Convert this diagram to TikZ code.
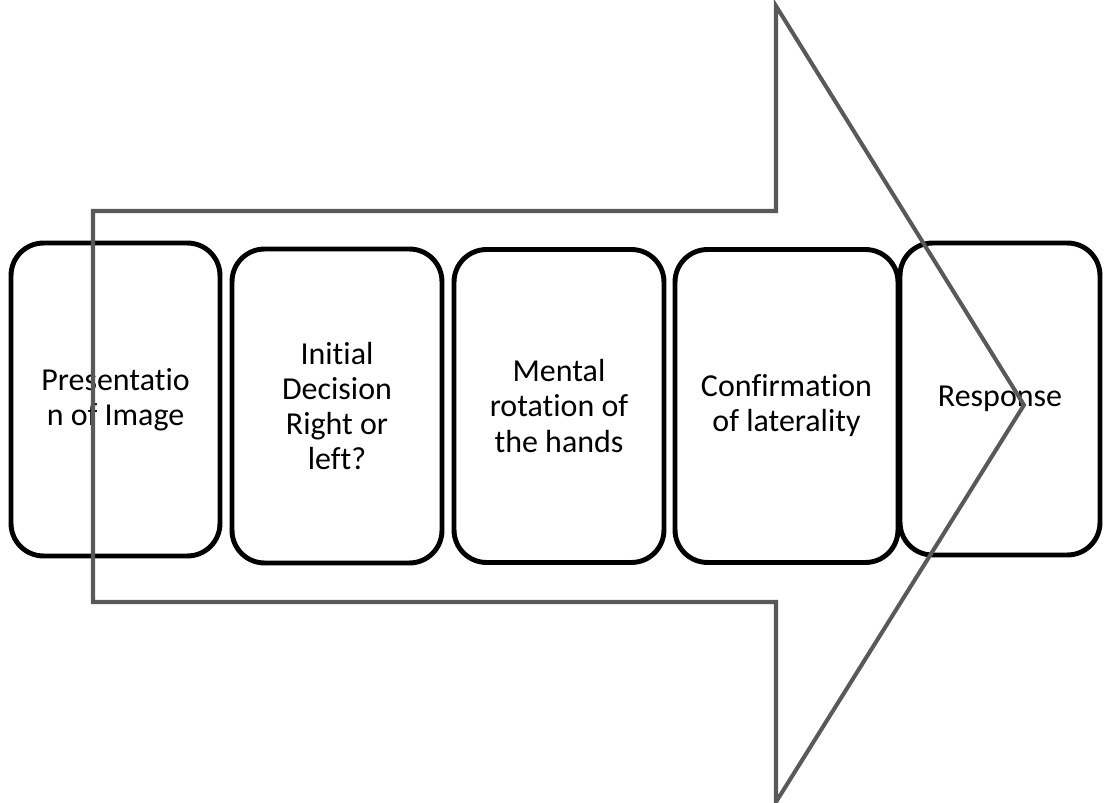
\documentclass[tikz,border=0pt]{standalone}
\usepackage{fontspec}
\setmainfont{Carlito}[Ligatures=NoCommon, RawFeature=-calt]
\usepackage{tikz}
\definecolor{arrowgray}{HTML}{595959}

\begin{document}
\begin{tikzpicture}[x=0.02cm,y=-0.02cm,
	stage/.style={draw=black, line width=2.8pt, rounded corners=0.65cm, inner sep=0pt, align=center, font=\fontsize{18.2}{20}\selectfont},
	flow/.style={draw=arrowgray, line width=2.3pt}]
	\useasboundingbox (0,0) rectangle (1105,803);
	
	\node[stage, minimum width=4.18cm, minimum height=6.26cm] (present) at (115.5,399.5) {Presentatio\\n of Image};
	\node[stage, minimum width=4.2cm, minimum height=6.28cm] (decide) at (337,406) {Initial\\Decision\\Right or\\left?};
	\node[stage, minimum width=4.2cm, minimum height=6.26cm] (rotate) at (559,406) {Mental\\rotation of\\the hands};
	\node[stage, minimum width=4.46cm, minimum height=6.26cm] (confirm) at (786.5,406) {Confirmation\\of laterality};
	\node[stage, minimum width=4cm, minimum height=6.24cm] (respond) at (1000,399) {Response};
	
	\draw[flow] (93,211) -- (776,211) -- (776,6) -- (1024,405) -- (776,802) -- (776,602) -- (93,602) -- cycle;
\end{tikzpicture}
\end{document}
